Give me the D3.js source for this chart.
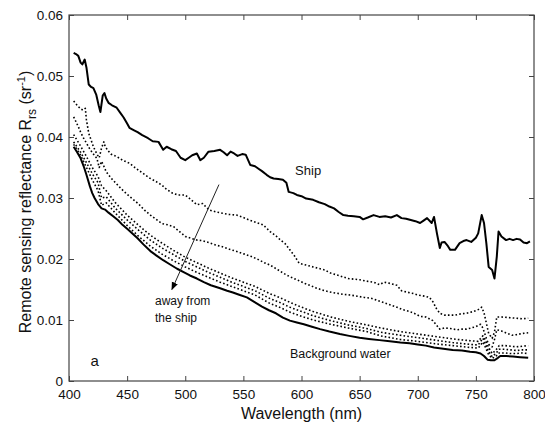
<!DOCTYPE html>
<html>
<head>
<meta charset="utf-8">
<script src="https://cdn.jsdelivr.net/npm/d3@7"></script>
<style>
  body { margin: 0; background: #fff; }
  svg { display: block; font-family: "Liberation Sans", Arial, sans-serif; }
</style>
</head>
<body>
<div id="chart"></div>
<script>
// Ship spectrum (solid, top)
const shipWl = [404,406,408,410,411.5,413.5,415,417,419,421,423.5,425.5,427,429,430.5,432,434,437,441,444,447,450,452,456,459,463,468,472,477,481,484,488,492,496,500,503,506,510,513,516,520,525,530,533,536,539,542,545,549,552,556,560,563,566,570,573,576,580,584,587,589,593,596,600,604,610,615,620,624,628,632,636,640,645,650,653,657,662,667,672,677,682,686,690,694,698,702,705,708,712,714,716.5,719,720.5,723,726,728,732,736,740,742,746,750,752,755,757,759,761,764,766,768,769.5,772,776,779,782,785,788,791,794,796.5];
const shipR = [.0538,.0536,.0533,.0522,.0519,.0527,.0514,.0486,.0482,.0480,.0469,.0452,.0441,.0468,.0472,.0463,.0456,.0452,.0448,.0440,.0432,.0422,.0415,.0411,.0408,.0403,.0398,.0393,.0392,.0379,.0384,.0380,.0377,.0366,.0362,.0366,.0370,.0373,.0362,.0366,.0376,.0377,.0379,.0375,.0370,.0376,.0373,.0369,.0372,.0371,.0354,.0352,.0348,.0344,.0338,.0334,.0332,.0331,.0330,.0325,.0310,.0308,.0305,.0303,.0299,.0297,.0293,.0290,.0286,.0283,.0277,.0272,.0271,.0270,.0269,.0265,.0268,.0272,.0269,.0270,.0268,.0272,.0267,.0266,.0264,.0262,.0259,.0263,.0267,.0259,.0269,.0242,.0218,.0227,.0228,.0221,.0215,.0215,.0226,.0230,.0231,.0228,.0235,.0242,.0272,.0259,.0226,.0187,.0182,.0168,.0204,.0245,.0237,.0231,.0233,.0231,.0233,.0232,.0227,.0226,.0229];

// First dotted curve (closest to the ship)
const d1Wl = [404,407,410,412,414,415,417,419,421,424,426,428,430,431,433,436,441,446,452,458,464,469,474,480,484,489,494,500,505,510,515,518,521,527,532,538,544,550,555,561,567,573,578,582,586,590,594,598,604,610,616,620,625,632,640,650,658,662,667,671,676,682,686,690,695,700,706,710,713,716,719,723,727,732,737,742,748,752,755,757,759,761,764,766,768,772,778,784,790,795];
const d1R = [.0459,.0452,.0446,.0444,.0447,.0428,.0406,.0395,.0384,.0372,.0366,.0382,.0392,.0385,.0379,.0372,.0368,.0362,.0357,.0348,.0340,.0333,.0328,.0321,.0314,.0308,.0305,.0305,.0297,.0289,.0291,.0285,.0280,.0277,.0275,.0273,.0272,.0268,.0264,.0260,.0256,.0245,.0238,.0231,.0225,.0215,.0205,.0193,.0190,.0187,.0184,.0182,.0177,.0173,.0168,.0166,.0163,.0162,.0158,.0162,.0160,.0157,.0148,.0146,.0144,.0141,.0139,.0137,.0130,.0119,.0111,.0108,.0108,.0108,.0110,.0111,.0114,.0117,.0121,.0112,.0095,.0078,.0070,.0080,.0105,.0105,.0104,.0103,.0102,.0103];

// Second dotted curve
const d2Wl = [404,406,408,410,412,415,418,421,424,426,428,430,432,436,440,445,450,455,460,465,470,475,480,485,490,495,500,505,510,515,520,526,532,538,545,551,557,563,568,573,580,585,590,597,603,607,612,618,624,630,636,642,648,654,659,664,670,676,682,687,693,698,702,707,713,716,719,723,728,734,738,742,746,750,754,756,759,761,764,766,768,772,777,781,785,790,795];
const d2R = [.0433,.0425,.0417,.0408,.0400,.0390,.0380,.0372,.0365,.0350,.0360,.0352,.0343,.0333,.0325,.0315,.0306,.0298,.0290,.0280,.0272,.0265,.0258,.0256,.0253,.0245,.0237,.0234,.0231,.0230,.0227,.0223,.0220,.0216,.0212,.0208,.0204,.0199,.0194,.0190,.0182,.0176,.0171,.0165,.0160,.0157,.0153,.0149,.0146,.0144,.0142,.0141,.0139,.0137,.0136,.0133,.0129,.0125,.0121,.0117,.0114,.0110,.0106,.0105,.0099,.0092,.0085,.0087,.0086,.0084,.0085,.0085,.0087,.0089,.0093,.0087,.0070,.0060,.0056,.0068,.0084,.0082,.0078,.0075,.0076,.0078,.0079];

// Three dotted curves close to the background water
const clusterWl = [404,410,415,420,425,428,432,440,450,460,470,480,490,500,510,520,530,540,550,560,573,581,590,600,610,625,640,656,668,685,700,715,730,745,752,756,758,761,764,767,770,775,780,785,790,795];
const d3R = [.0404,.0385,.0368,.0350,.0335,.0320,.0312,.0292,.0272,.0255,.0239,.0226,.0214,.0203,.0194,.0185,.0177,.0169,.0162,.0155,.0143,.0137,.0129,.0121,.0114,.0105,.0098,.0092,.0087,.0081,.0077,.0073,.0069,.0066,.0065,.0074,.0068,.0055,.0045,.0050,.0058,.0058,.0057,.0056,.0057,.0058];
const d4R = [.0392,.0375,.0358,.0340,.0325,.0300,.0302,.0283,.0264,.0247,.0231,.0218,.0207,.0196,.0187,.0178,.0170,.0162,.0155,.0148,.0135,.0129,.0121,.0114,.0107,.0099,.0092,.0086,.0080,.0075,.0071,.0067,.0063,.0060,.0059,.0070,.0062,.0048,.0040,.0045,.0052,.0052,.0051,.0050,.0051,.0051];
const d5R = [.0388,.0370,.0350,.0330,.0312,.0288,.0292,.0275,.0255,.0237,.0221,.0208,.0197,.0187,.0178,.0170,.0162,.0155,.0148,.0141,.0127,.0121,.0113,.0106,.0100,.0093,.0087,.0081,.0074,.0068,.0065,.0061,.0058,.0055,.0054,.0064,.0056,.0043,.0037,.0040,.0046,.0046,.0045,.0045,.0046,.0045];

// Background water (solid, bottom)
const bgWl = [404,407,410,413,415,418,420,422,425,428,431,434,438,442,446,451,455,459,464,470,475,481,487,493,499,504,510,516,522,530,536,541,547,553,560,566,572,578,584,590,596,602,609,616,624,633,641,650,658,667,676,685,693,700,707,714,722,730,738,745,750,754,757,760,763,766,769,771,776,782,788,795];
const bgR = [.0384,.0375,.0365,.0350,.0338,.0319,.0308,.0300,.0290,.0283,.0281,.0276,.0270,.0264,.0256,.0248,.0241,.0234,.0224,.0213,.0206,.0198,.0191,.0184,.0178,.0173,.0168,.0162,.0157,.0152,.0148,.0145,.0141,.0137,.0129,.0122,.0116,.0111,.0104,.0099,.0096,.0093,.0089,.0085,.0081,.0077,.0074,.0071,.0069,.0067,.0065,.0063,.0062,.0060,.0058,.0055,.0053,.0051,.0050,.0048,.0047,.0045,.0041,.0035,.0034,.0034,.0038,.0041,.0041,.0040,.0039,.0038];

const xTicks = [400,450,500,550,600,650,700,750,800];
const yTicks = [0,0.01,0.02,0.03,0.04,0.05,0.06];

const series = [
  { wl: shipWl, r: shipR, dotted: false },
  { wl: d1Wl, r: d1R, dotted: true },
  { wl: d2Wl, r: d2R, dotted: true },
  { wl: clusterWl, r: d3R, dotted: true },
  { wl: clusterWl, r: d4R, dotted: true },
  { wl: clusterWl, r: d5R, dotted: true },
  { wl: bgWl, r: bgR, dotted: false }
];

// Set the dimensions and margins of the graph
const margin = { top: 15, right: 11, bottom: 44, left: 69 },
    width = 545 - margin.left - margin.right,
    height = 425 - margin.top - margin.bottom;

const svg = d3.select("#chart")
  .append("svg")
    .attr("width", 545)
    .attr("height", 425)
  .append("g")
    .attr("transform", `translate(${margin.left},${margin.top})`);

const x = d3.scaleLinear().domain([400, 800]).range([0, width]);
const y = d3.scaleLinear().domain([0, 0.06]).range([height, 0]);

// Lines
const line = d3.line()
    .x(d => x(d[0]))
    .y(d => y(d[1]));

svg.append("g")
  .selectAll("path")
  .data(series)
  .enter()
  .append("path")
    .attr("d", s => line(s.wl.map((w, i) => [w, s.r[i]])))
    .attr("fill", "none")
    .attr("stroke", "#000")
    .attr("stroke-width", s => s.dotted ? 1.6 : 2)
    .attr("stroke-dasharray", s => s.dotted ? "1.6,2.2" : null)
    .attr("stroke-linejoin", "round");

// Axes (ticks inside the box)
const axisColor = "#444";
const styleAxis = g => {
  g.select(".domain").remove();
  g.selectAll(".tick line").attr("stroke", axisColor);
  g.selectAll(".tick text")
    .attr("fill", "#111")
    .style("font-size", "13.5px")
    .style("font-family", "'Liberation Sans', Arial, sans-serif");
};

svg.append("g")
  .attr("transform", `translate(0,${height})`)
  .call(d3.axisBottom(x).tickValues(xTicks).tickSize(-5).tickPadding(8).tickFormat(d3.format("d")))
  .call(styleAxis);

svg.append("g")
  .call(d3.axisTop(x).tickValues(xTicks).tickSize(-5).tickFormat(""))
  .call(styleAxis);

svg.append("g")
  .call(d3.axisLeft(y).tickValues(yTicks).tickSize(-5).tickPadding(6).tickFormat(d => d === 0 ? "0" : d3.format(".2f")(d)))
  .call(styleAxis);

svg.append("g")
  .attr("transform", `translate(${width},0)`)
  .call(d3.axisRight(y).tickValues(yTicks).tickSize(-5).tickFormat(""))
  .call(styleAxis);

// Frame
svg.append("rect")
  .attr("width", width)
  .attr("height", height)
  .attr("fill", "none")
  .attr("stroke", axisColor)
  .attr("stroke-width", 1.2);

// Axis labels
svg.append("text")
  .attr("x", width / 2)
  .attr("y", height + 38)
  .attr("text-anchor", "middle")
  .style("font-size", "16px")
  .attr("fill", "#111")
  .text("Wavelength (nm)");

const yLabel = svg.append("text")
  .attr("transform", `translate(-38,${height / 2 + 4}) rotate(-90)`)
  .attr("text-anchor", "middle")
  .style("font-size", "16px")
  .attr("fill", "#111");
yLabel.append("tspan").text("Remote sensing reflectance R");
yLabel.append("tspan").attr("dy", 5).style("font-size", "12px").text("rs");
yLabel.append("tspan").attr("dy", -5).text(" (sr");
yLabel.append("tspan").attr("dy", -6).style("font-size", "11px").text("-1");
yLabel.append("tspan").attr("dy", 6).text(")");

// Annotations
const note = (txt, wl, r, size) => svg.append("text")
  .attr("x", x(wl))
  .attr("y", y(r))
  .style("font-size", size + "px")
  .attr("fill", "#111")
  .text(txt);

note("Ship", 594.5, 0.0338, 13);
note("Background water", 590, 0.0037, 12.5);
note("away from", 474, 0.0124, 12);
note("the ship", 474, 0.0096, 12);
note("a", 418.6, 0.0025, 15);

// Arrow pointing away from the ship
svg.append("defs").append("marker")
    .attr("id", "head")
    .attr("viewBox", "0 0 10 10")
    .attr("refX", 9)
    .attr("refY", 5)
    .attr("markerWidth", 8)
    .attr("markerHeight", 8)
    .attr("orient", "auto")
  .append("path")
    .attr("d", "M0,1 L10,5 L0,9 Z")
    .attr("fill", "#000");

svg.append("line")
  .attr("x1", x(529))
  .attr("y1", y(0.0322))
  .attr("x2", x(488.5))
  .attr("y2", y(0.0150))
  .attr("stroke", "#222")
  .attr("stroke-width", 1)
  .attr("marker-end", "url(#head)");
</script>
</body>
</html>
